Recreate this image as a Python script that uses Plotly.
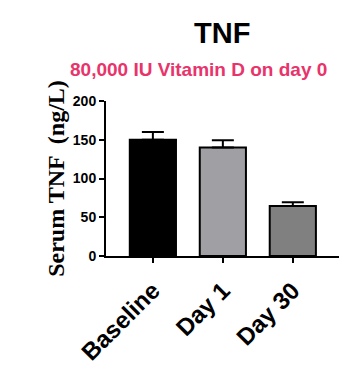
import plotly.graph_objects as go

categories = ["Baseline", "Day 1", "Day 30"]
values = [150, 140, 64.5]
errors = [10, 9.5, 5]
colors = ["#000000", "#A0A0A4", "#808080"]
y_ticks = [0, 50, 100, 150, 200]

fig = go.Figure()
fig.add_trace(go.Bar(
    x=categories, y=values, width=0.66,
    marker=dict(color=colors, line=dict(color="black", width=2)),
    error_y=dict(type="data", array=errors, arrayminus=[0]*len(errors),
                 symmetric=False, color="black", thickness=2, width=11),
))

OFF = 8  # default page body margin
W, H = 363 - OFF, 380 - OFF
L, R, T, B = 106 - OFF, 24, 101 - OFF, 124
fig.update_layout(
    width=W, height=H,
    margin=dict(l=L, r=R, t=T, b=B),
    paper_bgcolor="white", plot_bgcolor="white",
    showlegend=False,
    font=dict(family="Liberation Sans", color="black"),
    xaxis=dict(range=[-0.67, 2.66], showline=True, linecolor="black", linewidth=2,
               ticks="outside", ticklen=5, tickwidth=1.5, tickcolor="black",
               tickangle=-45, ticklabelstandoff=4,
               tickfont=dict(size=24, family="Liberation Sans", color="black", weight="bold"),
               showgrid=False, zeroline=False),
    yaxis=dict(range=[0, 200], tickvals=y_ticks, showline=True, linecolor="black", linewidth=2,
               ticks="outside", ticklen=5, tickwidth=2, tickcolor="black",
               tickfont=dict(size=14, family="Liberation Sans", color="black", weight="bold"),
               showgrid=False, zeroline=False,
               title=dict(text="Serum TNF  (ng/L)", standoff=1,
                          font=dict(size=24, family="Liberation Serif", color="black", weight="bold"))),
    annotations=[
        dict(text="<b>TNF</b>", x=222 - OFF, y=H - (33.5 - OFF), xref="paper", yref="paper", showarrow=False,
             font=dict(size=29, family="Liberation Sans", color="black"), xanchor="center", yanchor="middle"),
        dict(text="<b>80,000 IU Vitamin D on day 0</b>", x=198 - OFF, y=H - (69.5 - OFF), xref="paper", yref="paper",
             showarrow=False, font=dict(size=19, family="Liberation Sans", color="#E8336B"),
             xanchor="center", yanchor="middle"),
    ],
)
pw, ph = W - L - R, H - T - B
for a in fig.layout.annotations:
    a.x = (a.x - L) / pw
    a.y = (a.y - B) / ph

fig.write_html("out.html")
